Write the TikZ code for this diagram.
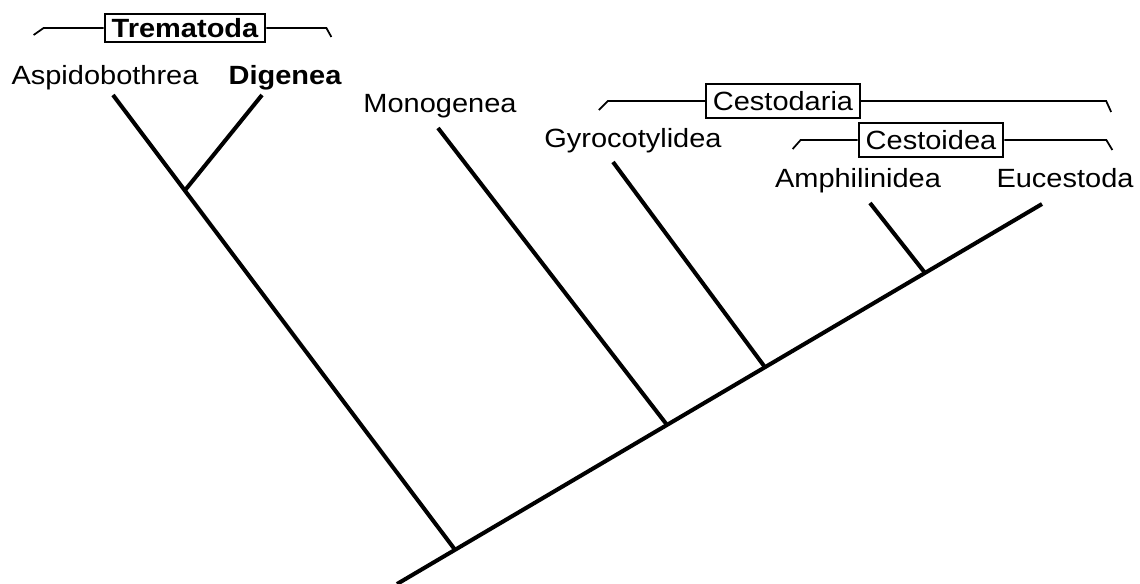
\documentclass[tikz,border=0pt]{standalone}
\usepackage{fontspec}
\setmainfont{Liberation Sans}[FakeStretch=1.1]
\usetikzlibrary{calc}

\begin{document}
\begin{tikzpicture}[x=0.02cm, y=-0.02cm,
  taxon/.style={font=\fontsize{15}{18}\selectfont, inner sep=0pt, anchor=base},
  cladebox/.style={draw, line width=1.2pt, font=\fontsize{15}{18}\selectfont,
    inner xsep=4pt, inner ysep=0pt, minimum height=0.68cm},
  branch/.style={line width=2.3pt},
  bracket/.style={line width=1pt}]
  \useasboundingbox (0,0) rectangle (1140,584);

  % taxon labels
  \node[taxon] (aspido) at (105,85) {Aspidobothrea};
  \node[taxon, font=\fontsize{15}{18}\selectfont\bfseries] (digen) at (285,85) {Digenea};
  \node[taxon] (monog) at (440,113) {Monogenea};
  \node[taxon] (gyro) at (633,148) {Gyrocotylidea};
  \node[taxon] (amphi) at (858,188) {Amphilinidea};
  \node[taxon] (euces) at (1065,188) {Eucestoda};

  % branch tips
  \coordinate (aspidoTip) at (113,95);
  \coordinate (digenTip) at (262,95);
  \coordinate (monogTip) at (438,128);
  \coordinate (gyroTip) at (613,162);
  \coordinate (amphiTip) at (870,203);
  \coordinate (eucesTip) at (1042,204);

  % junctions
  \coordinate (root) at (397,584);
  \coordinate (j1) at ($(root)!0.09!(eucesTip)$);
  \coordinate (j2) at ($(root)!0.4186!(eucesTip)$);
  \coordinate (j3) at ($(root)!0.5705!(eucesTip)$);
  \coordinate (j4) at ($(root)!0.8186!(eucesTip)$);
  \coordinate (jt) at ($(j1)!0.79!(aspidoTip)$);

  % tree
  \draw[branch] (root) -- (eucesTip);
  \draw[branch] (j1) -- (aspidoTip);
  \draw[branch] (jt) -- (digenTip);
  \draw[branch] (j2) -- (monogTip);
  \draw[branch] (j3) -- (gyroTip);
  \draw[branch] (j4) -- (amphiTip);

  % clade brackets
  \node[cladebox, font=\fontsize{15}{18}\selectfont\bfseries, minimum height=0.56cm]
    (trem) at (185,28) {Trematoda};
  \draw[bracket] (trem.west) -- ++(-60,0) -- ++(-10,7);
  \draw[bracket] (trem.east) -- ++(60,0) -- ++(5,9);

  \node[cladebox] (cestodar) at (783,101) {Cestodaria};
  \draw[bracket] (cestodar.west) -- ++(-97,0) -- ++(-9,9);
  \draw[bracket] (cestodar.east) -- ++(245,0) -- ++(5,11);

  \node[cladebox] (cestoid) at (931,140) {Cestoidea};
  \draw[bracket] (cestoid.west) -- ++(-57,0) -- ++(-8,9);
  \draw[bracket] (cestoid.east) -- ++(102,0) -- ++(6,10);
\end{tikzpicture}
\end{document}
